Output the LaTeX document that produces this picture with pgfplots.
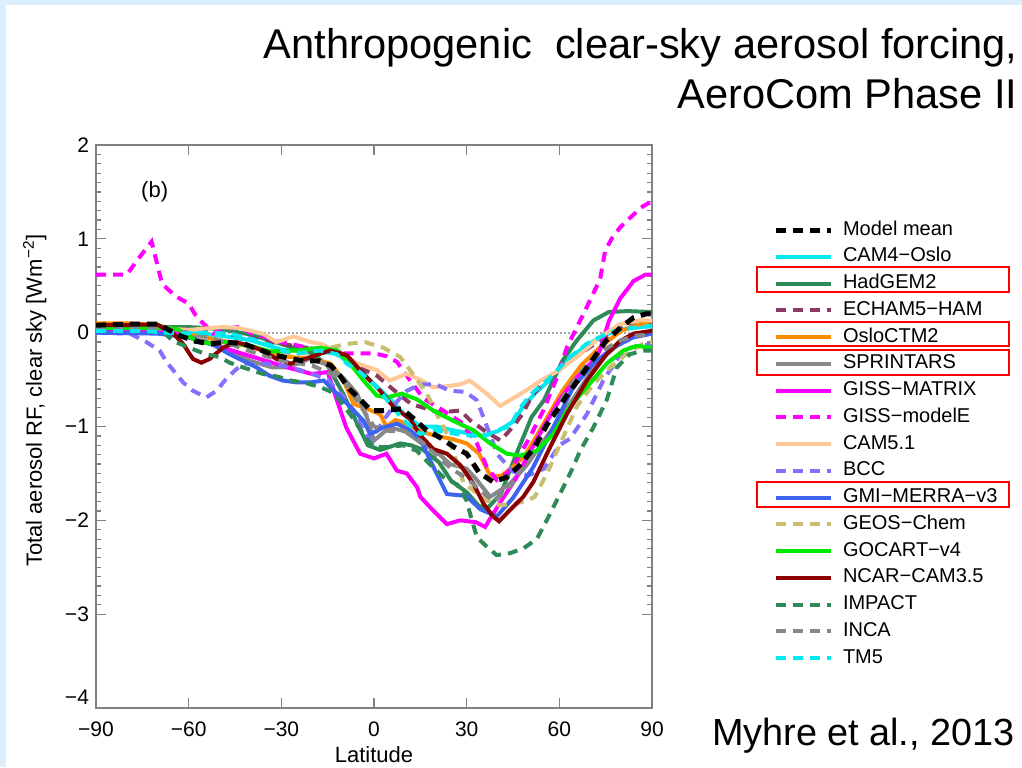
\documentclass[border=0pt]{standalone}
\usepackage{pgfplots}
\pgfplotsset{compat=1.18}
\usepackage{fontspec}
\setmainfont{Liberation Sans}
\definecolor{slide}{RGB}{220,238,252}
\definecolor{axgray}{RGB}{128,128,128}
\definecolor{ccam4}{RGB}{0,235,240}
\definecolor{chad}{RGB}{46,139,87}
\definecolor{cecham}{RGB}{139,58,98}
\definecolor{coslo}{RGB}{255,140,0}
\definecolor{csprint}{RGB}{136,136,136}
\definecolor{cmag}{RGB}{255,0,255}
\definecolor{ccam5}{RGB}{255,200,150}
\definecolor{cbcc}{RGB}{132,112,255}
\definecolor{cgmi}{RGB}{60,100,240}
\definecolor{cgeos}{RGB}{200,190,110}
\definecolor{cgocart}{RGB}{0,235,0}
\definecolor{cncar}{RGB}{139,0,0}
\begin{document}
\begin{tikzpicture}
\fill[slide] (0,0) rectangle (511pt,-383.5pt);
\fill[white] (3pt,-2.5pt) rectangle (511pt,-383.5pt);
\path[use as bounding box] (0,0) rectangle (511pt,-383.5pt);
\node[anchor=base east, inner sep=0pt, font=\fontsize{20.8}{24}\selectfont] at (509pt,-29pt) {Anthropogenic\ \ clear-sky aerosol forcing,};
\node[anchor=base east, inner sep=0pt, font=\fontsize{20.8}{24}\selectfont] at (509pt,-54pt) {AeroCom Phase II};
\node[anchor=base east, inner sep=0pt, font=\fontsize{18.9}{22}\selectfont] at (507.5pt,-372.5pt) {Myhre et al., 2013};
\pgfplotsset{
  ls/.style={line width=2pt},
  lsd/.style={line width=2pt, dash pattern=on 5pt off 3.5pt},
}
\begin{axis}[
  at={(48pt,-354pt)}, anchor=south west,
  width=278pt, height=281.5pt, scale only axis,
  xmin=-90, xmax=90, ymin=-4, ymax=2,
  xtick={-90,-60,-30,0,30,60,90},
  xticklabels={−90,−60,−30,0,30,60,90},
  ytick={-3,-2,-1,0,1,2},
  yticklabels={−3,−2,−1,0,1,2},
  extra y ticks={-4}, extra y tick labels={−4},
  extra y tick style={yticklabel style={yshift=5.5pt}},
  minor y tick num=9,
  tick align=inside,
  major tick length=5pt, minor tick length=2.5pt,
  axis line style={axgray, line width=0.8pt},
  every tick/.style={axgray, line width=0.6pt},
  tick label style={font=\fontsize{10.5}{12}\selectfont},
  xticklabel style={yshift=-3.5pt},
  xlabel={Latitude},
  ylabel={Total aerosol RF, clear sky [Wm\textsuperscript{−2}]},
  label style={font=\fontsize{11}{13}\selectfont},
  xlabel style={at={(axis description cs:0.5,-0.083)}, anchor=center},
  ylabel style={at={(axis description cs:-0.11,0.546)}, anchor=center, rotate=0},
  legend style={
    at={(1.2176,0.8664)}, anchor=north west,
    draw=none, fill=none, inner sep=0pt, outer sep=0pt,
    row sep=3.375pt, column sep=0pt,
    font=\fontsize{10}{12}\selectfont,
    nodes={inner sep=0pt, outer sep=0pt, text height=7.5pt, text depth=2.5pt},
  },
  legend cell align=left,
  legend image code/.code={\draw[#1] (0pt,0pt) -- (27.5pt,0pt); \path (32.5pt,0pt);},
]
\addplot[forget plot, axgray!70, line width=1pt, densely dotted] coordinates {(-90,0) (90,0)};

\addlegendimage{black, line width=2.5pt, dash pattern=on 5pt off 3.5pt}
\addlegendentry{Model mean}

% CAM4-Oslo
\addplot[ccam4, ls] coordinates {(-90,0.03) (-70,0.03) (-60,0.0) (-50,-0.03) (-40,-0.08) (-30,-0.18) (-20,-0.2) (-12,-0.22) (-8,-0.33) (-4,-0.42) (1,-0.58) (5,-0.7) (10,-0.88) (15,-1.0) (20,-1.0) (27,-1.05) (35,-1.1) (40,-1.05) (45,-0.95) (48,-0.8) (52,-0.65) (57,-0.5) (63,-0.28) (69,-0.13) (75,-0.02) (81,0.04) (86,0.06) (90,0.07)};
\addlegendentry{CAM4−Oslo}

% HadGEM2
\addplot[chad, ls] coordinates {(-90,0.05) (-70,0.06) (-60,0.06) (-50,0.04) (-40,-0.02) (-30,-0.12) (-20,-0.22) (-15,-0.35) (-10,-0.65) (-5,-1.0) (-2,-1.2) (2,-1.25) (8.5,-1.18) (12,-1.2) (16,-1.25) (21,-1.38) (25,-1.58) (30,-1.7) (34,-1.85) (37,-1.86) (41,-1.72) (46,-1.3) (51,-0.9) (55,-0.72) (57,-0.58) (61,-0.3) (65.5,-0.09) (71,0.13) (76,0.22) (82,0.23) (90,0.22)};
\addlegendentry{HadGEM2}

% ECHAM5-HAM
\addplot[cecham, lsd] coordinates {(-90,0.05) (-70,0.05) (-60,0.03) (-50,0.0) (-40,-0.05) (-30,-0.12) (-20,-0.17) (-16,-0.2) (-12,-0.19) (-7,-0.30) (-3,-0.40) (1,-0.46) (6,-0.6) (12,-0.76) (16,-0.8) (21,-0.85) (28,-0.83) (31,-0.93) (36,-1.05) (41,-1.15) (45,-1.0) (48,-0.87) (51,-0.68) (55,-0.52) (60,-0.38) (65,-0.27) (70,-0.15) (75,-0.05) (80,0.05) (85,0.1) (90,0.12)};
\addlegendentry{ECHAM5−HAM}

% OsloCTM2
\addplot[coslo, ls] coordinates {(-90,0.1) (-80,0.1) (-70,0.08) (-65,0.03) (-60,-0.02) (-50,-0.08) (-40,-0.15) (-30,-0.25) (-20,-0.28) (-14,-0.33) (-10,-0.5) (-6.6,-0.76) (-3,-0.8) (2,-0.87) (4,-1.0) (7,-0.93) (10.6,-0.97) (15,-1.05) (20,-1.1) (25,-1.13) (30,-1.18) (34,-1.29) (37.6,-1.52) (41,-1.53) (45,-1.43) (49,-1.3) (53,-1.08) (57,-0.85) (61,-0.62) (67,-0.35) (73,-0.16) (80,0.02) (86,0.09) (90,0.13)};
\addlegendentry{OsloCTM2}

% SPRINTARS
\addplot[csprint, ls] coordinates {(-90,0.08) (-70,0.08) (-60,-0.03) (-50,-0.15) (-40,-0.3) (-33,-0.37) (-28,-0.37) (-21,-0.28) (-16,-0.33) (-10,-0.48) (-5.5,-0.65) (-2.3,-0.9) (0,-1.15) (5,-1.01) (10,-1.05) (15,-1.17) (20,-1.26) (24.6,-1.4) (30,-1.45) (33.3,-1.57) (37.6,-1.75) (44,-1.61) (49,-1.43) (55,-1.15) (60,-0.92) (65,-0.68) (70,-0.43) (75,-0.24) (80,-0.1) (85,-0.03) (90,0.0)};
\addlegendentry{SPRINTARS}

% GISS-MATRIX
\addplot[cmag, ls] coordinates {(-90,0.04) (-75,0.03) (-65,0.0) (-55,-0.1) (-45,-0.2) (-35,-0.3) (-27,-0.38) (-20,-0.44) (-15,-0.42) (-12,-0.72) (-9,-1.01) (-4.5,-1.29) (0,-1.34) (4,-1.29) (7.4,-1.47) (10.6,-1.50) (14,-1.65) (15,-1.75) (19,-1.89) (23.6,-2.04) (28,-2.0) (33,-2.02) (36,-2.07) (38,-1.96) (42,-1.75) (46,-1.55) (50,-1.3) (55,-1.0) (60,-0.72) (65,-0.5) (70,-0.33) (73,-0.2) (76,0.12) (79.6,0.36) (84,0.55) (88,0.62) (90,0.62)};
\addlegendentry{GISS−MATRIX}

% GISS-modelE
\addplot[cmag, lsd] coordinates {(-90,0.62) (-85,0.62) (-80,0.62) (-76,0.8) (-72,0.97) (-68.6,0.52) (-64.3,0.39) (-60,0.31) (-57.3,0.16) (-54,0.06) (-52,-0.01) (-48,0.04) (-44,0.06) (-40,0.0) (-30,-0.1) (-20,-0.17) (-10,-0.22) (0,-0.22) (4,-0.25) (7.4,-0.31) (11.7,-0.51) (16,-0.7) (22.4,-0.83) (28,-0.95) (33.3,-1.18) (36.5,-1.43) (39.7,-1.57) (43,-1.5) (46.2,-1.36) (50.5,-1.11) (54.8,-0.83) (59.2,-0.48) (62.4,-0.16) (67.8,0.2) (73.2,0.57) (74.8,0.87) (76.9,1.0) (79.6,1.12) (83.4,1.24) (87.2,1.35) (90,1.4)};
\addlegendentry{GISS−modelE}

% CAM5.1
\addplot[ccam5, ls] coordinates {(-90,0.05) (-70,0.05) (-60,0.03) (-49,0.06) (-44,0.05) (-36,-0.01) (-31.6,-0.1) (-26,-0.04) (-20.6,-0.1) (-17,-0.12) (-12,-0.2) (-6,-0.32) (1,-0.4) (5,-0.51) (10.6,-0.44) (15,-0.5) (19,-0.58) (24,-0.57) (28,-0.55) (31,-0.51) (36.5,-0.65) (40.8,-0.78) (44,-0.72) (49,-0.62) (54,-0.51) (60,-0.4) (66.7,-0.23) (73,-0.05) (79.6,0.09) (86,0.13) (90,0.13)};
\addlegendentry{CAM5.1}

% BCC
\addplot[cbcc, lsd] coordinates {(-90,0.0) (-79,-0.01) (-73.7,-0.1) (-69.4,-0.19) (-67,-0.32) (-64.5,-0.42) (-61.8,-0.53) (-58.6,-0.62) (-54.3,-0.69) (-51,-0.62) (-47.8,-0.49) (-44.6,-0.39) (-42,-0.33) (-35,-0.33) (-28,-0.36) (-21.7,-0.42) (-15,-0.5) (-10,-0.68) (-6.6,-0.83) (-3.4,-1.04) (-1,-1.15) (3,-0.94) (7,-0.75) (10.6,-0.62) (15,-0.55) (20,-0.55) (24.6,-0.62) (29.5,-0.63) (33.3,-0.72) (35.4,-0.9) (40,-1.3) (45,-1.48) (50,-1.52) (55,-1.45) (60,-1.2) (63.4,-1.13) (68.9,-0.87) (74.2,-0.51) (79.6,-0.24) (83,-0.16) (90,-0.12)};
\addlegendentry{BCC}

% GMI-MERRA-v3
\addplot[cgmi, ls] coordinates {(-90,0.0) (-70,-0.01) (-60,-0.05) (-52,-0.13) (-46.7,-0.23) (-38,-0.37) (-33.8,-0.46) (-29.5,-0.51) (-25,-0.53) (-20.6,-0.53) (-16.3,-0.51) (-12,-0.65) (-7.7,-0.79) (-3.4,-0.94) (-1.2,-1.08) (3,-1.01) (7.4,-0.97) (11.7,-1.04) (14.9,-1.13) (19.2,-1.43) (23.6,-1.72) (30,-1.74) (34.3,-1.88) (39.7,-1.96) (45,-1.76) (51.6,-1.43) (58,-1.01) (64.5,-0.58) (71,-0.33) (77.4,-0.16) (83.9,-0.05) (90,-0.01)};
\addlegendentry{GMI−MERRA−v3}

% GEOS-Chem
\addplot[cgeos, lsd] coordinates {(-90,0.03) (-70,0.03) (-60,-0.02) (-50,-0.08) (-40,-0.15) (-30,-0.22) (-22,-0.22) (-14,-0.16) (-8.8,-0.12) (-3,-0.1) (3,-0.16) (8.5,-0.26) (12.8,-0.45) (17.1,-0.65) (21.4,-0.94) (24,-1.1) (29,-1.6) (36.5,-1.79) (40.8,-1.84) (46,-1.82) (49.4,-1.79) (52,-1.75) (56,-1.5) (61.3,-1.11) (65.6,-0.79) (71,-0.55) (76.4,-0.37) (82,-0.22) (87,-0.12) (90,-0.1)};
\addlegendentry{GEOS−Chem}

% GOCART-v4
\addplot[cgocart, ls] coordinates {(-90,0.05) (-70,0.05) (-63.7,0.04) (-57.5,-0.09) (-52,-0.12) (-48.7,-0.1) (-40,-0.14) (-33.6,-0.2) (-25,-0.19) (-17.4,-0.16) (-12,-0.19) (-7.7,-0.33) (-3.4,-0.51) (0.9,-0.67) (4.2,-0.69) (9,-0.65) (13.9,-0.71) (19.2,-0.83) (25.7,-0.94) (32.2,-1.04) (37.6,-1.18) (43,-1.29) (47.3,-1.31) (52.7,-1.26) (58,-1.08) (63.4,-0.79) (68.9,-0.58) (75.3,-0.33) (80.7,-0.19) (85,-0.14) (90,-0.16)};
\addlegendentry{GOCART−v4}

% NCAR-CAM3.5
\addplot[cncar, ls] coordinates {(-90,0.08) (-80,0.08) (-70.4,0.09) (-65,-0.01) (-61.8,-0.12) (-58.6,-0.28) (-55.9,-0.32) (-53.2,-0.28) (-48.9,-0.16) (-44.6,-0.10) (-40.3,-0.14) (-36,-0.19) (-31.6,-0.28) (-27,-0.33) (-20.6,-0.26) (-14.2,-0.19) (-8.8,-0.24) (-3.4,-0.44) (2,-0.62) (6.3,-0.79) (11.7,-0.92) (14.9,-1.09) (19.2,-1.24) (23.6,-1.29) (27.9,-1.41) (32.2,-1.61) (35.4,-1.82) (38.6,-1.96) (40.5,-2.01) (44,-1.89) (48.3,-1.75) (51.6,-1.59) (57,-1.22) (62.4,-0.87) (68.9,-0.51) (75.3,-0.23) (79.6,-0.09) (84,-0.01) (90,0.02)};
\addlegendentry{NCAR−CAM3.5}

% IMPACT
\addplot[chad, lsd] coordinates {(-90,0.05) (-75,0.05) (-68,0.0) (-65,-0.09) (-57.5,-0.19) (-54.3,-0.23) (-50,-0.26) (-46.7,-0.32) (-42.4,-0.37) (-35.9,-0.44) (-31,-0.47) (-27,-0.51) (-22.8,-0.53) (-17.4,-0.58) (-13.1,-0.64) (-7.7,-0.87) (-3.4,-1.08) (-0.2,-1.22) (4.2,-1.22) (9.5,-1.2) (13.9,-1.26) (18,-1.4) (22.5,-1.54) (27,-1.62) (30,-1.79) (31.1,-1.93) (33.3,-2.18) (36.5,-2.28) (39.7,-2.37) (44,-2.35) (48.3,-2.3) (52.7,-2.2) (55.9,-2.0) (60.2,-1.72) (64.5,-1.43) (66.7,-1.26) (71,-1.01) (75.3,-0.72) (78.6,-0.37) (82.8,-0.23) (87.2,-0.19) (90,-0.19)};
\addlegendentry{IMPACT}

% INCA
\addplot[csprint, lsd] coordinates {(-90,0.05) (-70,0.05) (-60,0.0) (-50,-0.08) (-40,-0.2) (-30,-0.3) (-20,-0.35) (-10,-0.5) (-5,-0.75) (0,-1.0) (5,-1.05) (10,-1.05) (15,-1.15) (20,-1.3) (25,-1.45) (30,-1.55) (35,-1.7) (39,-1.8) (45,-1.6) (50,-1.35) (55,-1.05) (60,-0.75) (65,-0.5) (70,-0.3) (75,-0.17) (80,-0.08) (85,-0.03) (90,-0.02)};
\addlegendentry{INCA}

% TM5
\addplot[ccam4, lsd] coordinates {(-90,0.02) (-75,0.02) (-63,-0.01) (-55,0.0) (-46.7,-0.01) (-39.2,-0.07) (-33.8,-0.13) (-29,-0.2) (-24.9,-0.22) (-17.4,-0.19) (-12,-0.23) (-8.8,-0.33) (-4.5,-0.42) (0.9,-0.58) (5,-0.75) (9.5,-0.93) (14.9,-1.08) (19.2,-1.04) (26.8,-1.08) (35.4,-1.11) (39.7,-1.04) (44,-1.0) (47.3,-0.8) (51.6,-0.63) (57,-0.48) (63.4,-0.26) (68.8,-0.12) (75.3,-0.01) (80.7,0.04) (86,0.06) (90,0.07)};
\addlegendentry{TM5}

% Model mean (drawn on top)
\addplot[forget plot, black, line width=2.5pt, dash pattern=on 5pt off 3.5pt] coordinates {(-90,0.08) (-80,0.09) (-70,0.09) (-67,0.04) (-63,-0.03) (-58,-0.09) (-53,-0.12) (-48,-0.10) (-42,-0.12) (-38,-0.17) (-33,-0.23) (-28,-0.27) (-23,-0.30) (-18,-0.30) (-14,-0.35) (-11,-0.46) (-8,-0.60) (-4.5,-0.71) (-1,-0.83) (3,-0.83) (9,-0.81) (13,-0.92) (17,-1.04) (21,-1.11) (26,-1.22) (30,-1.29) (34,-1.49) (38.5,-1.59) (43,-1.54) (47,-1.42) (52,-1.22) (56,-0.98) (60,-0.79) (63.5,-0.62) (69,-0.37) (75,-0.09) (80,0.06) (84,0.16) (88,0.2) (90,0.2)};

\node[font=\fontsize{11}{13}\selectfont] at (axis cs:-71,1.5) {(b)};
\end{axis}
\draw[red, line width=1pt] (378.65pt,-133.65pt) rectangle (504.65pt,-146.15pt);
\draw[red, line width=1pt] (378.65pt,-160.85pt) rectangle (504.65pt,-173pt);
\draw[red, line width=1pt] (378.65pt,-175pt) rectangle (504.65pt,-187.5pt);
\draw[red, line width=1pt] (378.65pt,-240.85pt) rectangle (504.65pt,-253.35pt);
\end{tikzpicture}
\end{document}
